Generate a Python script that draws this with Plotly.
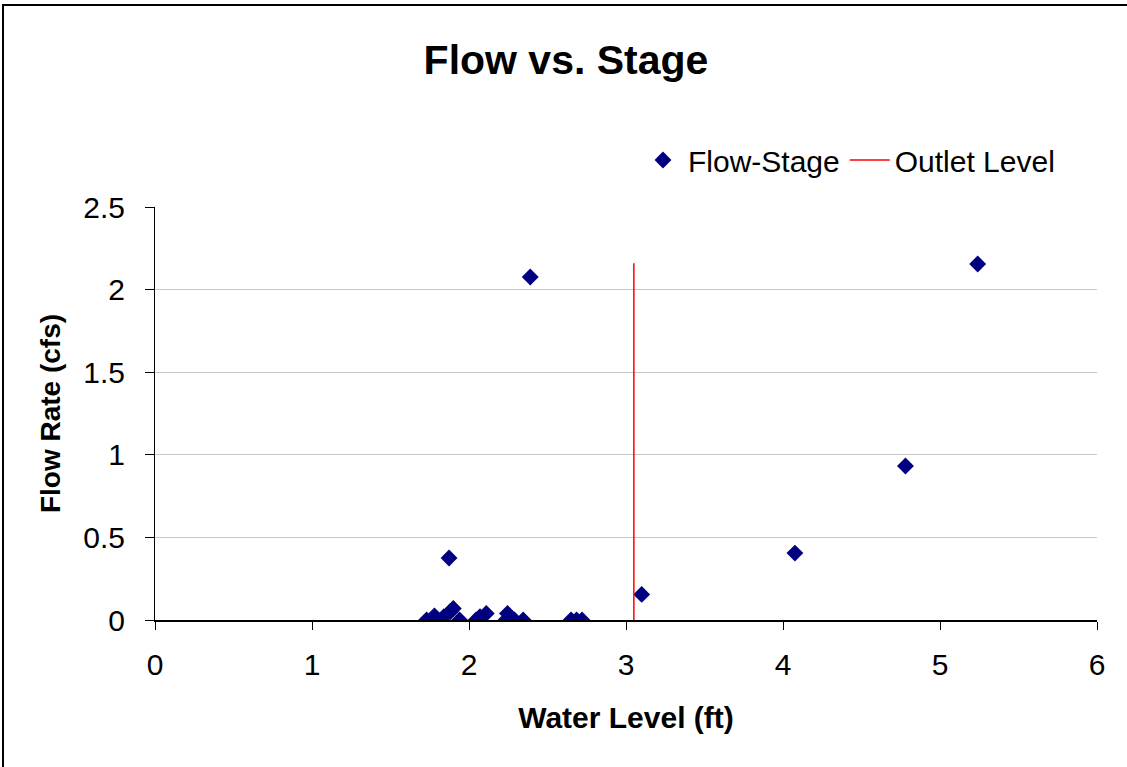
import plotly.graph_objects as go

water_level = [1.73, 1.78, 1.84, 1.873, 1.88, 1.90, 1.94, 2.045, 2.07, 2.11, 2.235, 2.245, 2.29, 2.345,
               2.65, 2.685, 2.72, 2.39, 3.10, 4.076, 4.78, 5.24]
flow_rate = [0.0, 0.025, 0.02, 0.375, 0.05, 0.07, 0.0, 0.0, 0.02, 0.04, 0.0, 0.04, 0.0, 0.0,
             0.0, 0.0, 0.0, 2.076, 0.155, 0.405, 0.932, 2.155]
outlet_x = [3.05, 3.05]
outlet_y = [0.0, 2.16]

FONT = "Liberation Sans, Arial, sans-serif"

fig = go.Figure()
fig.add_trace(go.Scatter(x=water_level, y=flow_rate, mode="markers", name="Flow-Stage",
                         marker=dict(symbol="diamond", size=13, color="#000080")))
fig.add_trace(go.Scatter(x=outlet_x, y=outlet_y, mode="lines", name="Outlet Level",
                         line=dict(color="#FF0000", width=1.5)))

W, H = 1127, 767
L, R, T, B = 155, 30, 207, 147
pw, ph = W - L - R, H - T - B

def px(xp):
    return (xp - L) / pw

def py(yp):
    return (H - B - yp) / ph

fig.update_layout(
    width=W, height=H,
    margin=dict(l=L, r=R, t=T, b=B),
    paper_bgcolor="white", plot_bgcolor="white",
    font=dict(family=FONT, size=30, color="black"),
    title=dict(text="<b>Flow vs. Stage</b>", x=566 / W, xref="container", xanchor="center",
               y=1 - 60 / H, yanchor="middle", font=dict(size=41)),
    showlegend=True,
    legend=dict(orientation="h", x=px(638), xanchor="left", y=py(160), yanchor="middle",
                font=dict(size=30), bgcolor="rgba(0,0,0,0)", itemwidth=40),
    xaxis=dict(range=[0, 6], dtick=1, tick0=0, showgrid=False, zeroline=False,
               showline=True, linecolor="black", linewidth=1.5,
               ticks="outside", ticklen=8, tickcolor="black",
               tickfont=dict(size=30), ticklabelstandoff=9,
               title=dict(text="<b>Water Level (ft)</b>", font=dict(size=30), standoff=27)),
    yaxis=dict(range=[0, 2.5], dtick=0.5, tick0=0, showgrid=True, gridcolor="#C8C8C8",
               gridwidth=1, zeroline=False, showline=True, linecolor="black", linewidth=1,
               ticks="outside", ticklen=9, tickcolor="black",
               tickfont=dict(size=30), ticklabelstandoff=14,
               title=dict(text="<b>Flow Rate (cfs)</b>", font=dict(size=28), standoff=14)),
    shapes=[dict(type="rect", xref="paper", yref="paper",
                 x0=px(3), x1=px(W + 10), y0=py(H + 10), y1=py(5),
                 line=dict(color="black", width=2), fillcolor="rgba(0,0,0,0)", layer="below")],
)

fig.write_html("out.html", config={"displayModeBar": False},
               post_script="document.body.style.margin='0px';")
